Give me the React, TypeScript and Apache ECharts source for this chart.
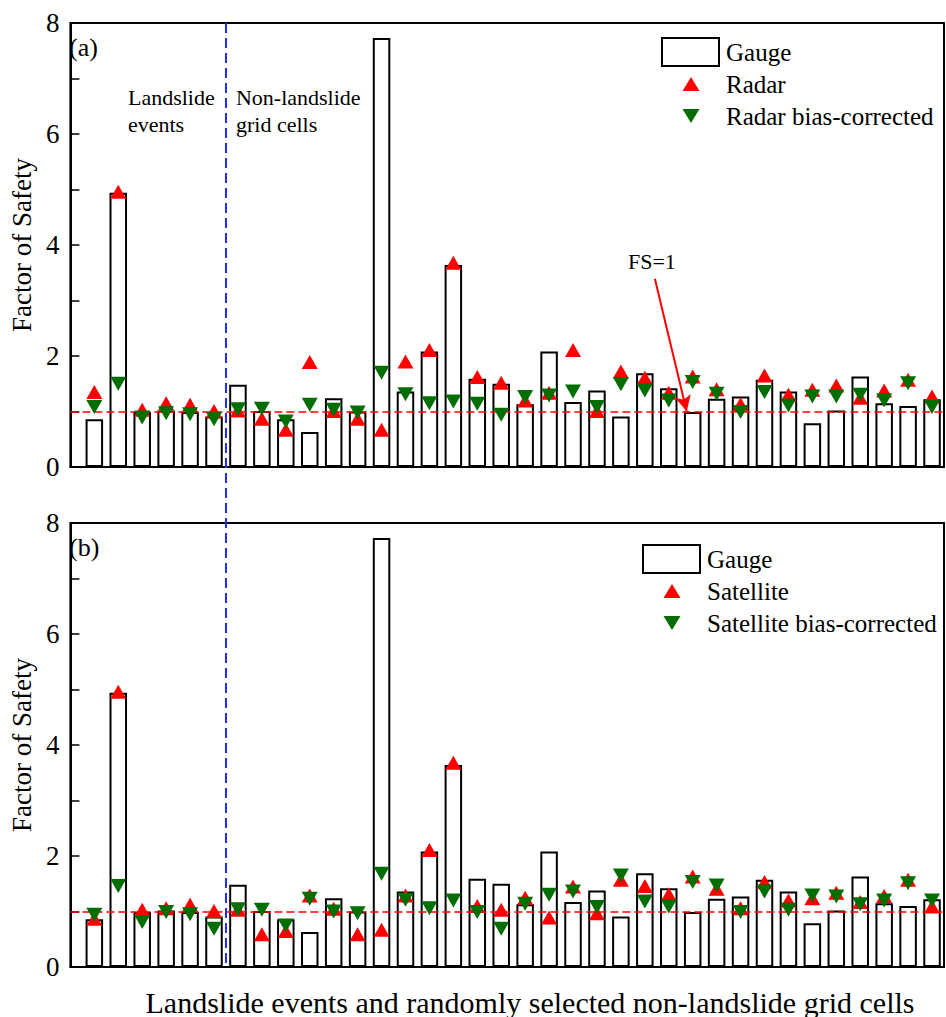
import React, { useEffect, useRef } from "react";
import * as echarts from "echarts";

// Factor of safety per cell: 6 landslide events followed by 30 non-landslide grid cells
const gauge = [0.86, 4.94, 0.99, 1.02, 0.99, 0.91, 1.48, 1.01, 0.86, 0.63, 1.24, 1.0, 7.73, 1.36, 2.08, 3.64, 1.59, 1.5, 1.13, 2.08, 1.17, 1.38, 0.91, 1.69, 1.42, 0.99, 1.23, 1.27, 1.57, 1.36, 0.79, 1.02, 1.63, 1.15, 1.1, 1.22];
const radar = [1.35, 4.96, 1.03, 1.15, 1.12, 1.01, 1.02, 0.87, 0.67, 1.89, 1.01, 0.87, 0.67, 1.9, 2.11, 3.68, 1.62, 1.52, 1.2, 1.34, 2.11, 1.01, 1.72, 1.61, 1.34, 1.63, 1.4, 1.13, 1.65, 1.3, 1.39, 1.47, 1.25, 1.38, 1.57, 1.27];
const radarCorrected = [1.08, 1.5, 0.89, 0.97, 0.95, 0.86, 1.04, 1.05, 0.82, 1.12, 1.03, 0.98, 1.7, 1.31, 1.15, 1.18, 1.14, 0.94, 1.26, 1.29, 1.36, 1.08, 1.49, 1.38, 1.2, 1.53, 1.32, 0.99, 1.35, 1.11, 1.27, 1.27, 1.3, 1.2, 1.51, 1.08];
const satellite = [0.87, 4.96, 1.03, 1.06, 1.12, 1.01, 1.03, 0.59, 0.65, 1.29, 1.05, 0.59, 0.67, 1.29, 2.11, 3.68, 1.1, 1.03, 1.25, 0.89, 1.45, 0.97, 1.57, 1.46, 1.31, 1.63, 1.41, 1.06, 1.53, 1.2, 1.24, 1.34, 1.17, 1.28, 1.57, 1.09];
const satelliteCorrected = [0.94, 1.46, 0.81, 0.99, 0.95, 0.69, 1.04, 1.03, 0.75, 1.23, 1.0, 0.97, 1.68, 1.21, 1.06, 1.2, 0.99, 0.69, 1.14, 1.3, 1.36, 1.08, 1.65, 1.18, 1.09, 1.53, 1.47, 0.99, 1.36, 1.03, 1.29, 1.27, 1.13, 1.2, 1.51, 1.2];

const yTicks = { min: 0, max: 8, interval: 2 };
const X_MAX = 36.5;
const DIVIDER_X = 6.5; // between landslide events and non-landslide cells
const FS_THRESHOLD = 1;
const arrowFrom = [24.42, 3.39];
const arrowTo = [25.75, 1.0];

const panelTags = ["(a)", "(b)"];
const legendNames = [
  ["Gauge", "Radar", "Radar bias-corrected"],
  ["Gauge", "Satellite", "Satellite bias-corrected"],
];
const yTitle = "Factor of Safety";
const xTitle = "Landslide events and randomly selected non-landslide grid cells";

const FONT = "'Liberation Serif', 'Times New Roman', serif";
const RED = "#ff0000";
const GREEN = "#006e00";
const BLUE = "#1f2fe8";

const toPairs = (vals: number[]) => vals.map((v, i) => [i + 1, v]);

const GRID_LEFT = 66;
const GRID_WIDTH = 878;
const GRID_HEIGHT = 444;
const GRID_TOPS = [23, 523];

function legendGraphics(x0: number, y0: number, names: string[]) {
  const textStyle = (text: string) => ({
    text,
    fontSize: 25,
    fontFamily: FONT,
    fill: "#000",
    verticalAlign: "middle",
    align: "left",
  });
  const cx = x0 + 29;
  return [
    {
      type: "rect",
      shape: { x: x0, y: y0, width: 57, height: 28 },
      style: { fill: "#fff", stroke: "#000", lineWidth: 2 },
      z: 20,
    },
    { type: "text", x: x0 + 64, y: y0 + 14, style: textStyle(names[0]), z: 20 },
    {
      type: "polygon",
      shape: { points: [[cx, y0 + 39], [cx + 8.5, y0 + 53], [cx - 8.5, y0 + 53]] },
      style: { fill: RED },
      z: 20,
    },
    { type: "text", x: x0 + 64, y: y0 + 46, style: textStyle(names[1]), z: 20 },
    {
      type: "polygon",
      shape: { points: [[cx - 8.5, y0 + 71], [cx + 8.5, y0 + 71], [cx, y0 + 85]] },
      style: { fill: GREEN },
      z: 20,
    },
    { type: "text", x: x0 + 64, y: y0 + 78, style: textStyle(names[2]), z: 20 },
  ];
}

export default function App() {
  const ref = useRef<HTMLDivElement>(null);

  useEffect(() => {
    if (!ref.current) return;
    const chart = echarts.init(ref.current, undefined, { renderer: "svg" });

    const estimates = [radar, satellite];
    const corrected = [radarCorrected, satelliteCorrected];

    const grids = GRID_TOPS.map((top) => ({
      left: GRID_LEFT,
      top,
      width: GRID_WIDTH,
      height: GRID_HEIGHT,
      show: true,
      borderColor: "#000",
      borderWidth: 2,
      backgroundColor: "rgba(0,0,0,0)",
    }));

    const xAxes = GRID_TOPS.map((_, i) => ({
      type: "value",
      gridIndex: i,
      min: 0,
      max: X_MAX,
      axisLine: { show: true, lineStyle: { color: "#000", width: 2 } },
      axisTick: { show: false },
      axisLabel: { show: false },
      splitLine: { show: false },
    }));

    const yAxes = GRID_TOPS.map((_, i) => ({
      type: "value",
      gridIndex: i,
      min: yTicks.min,
      max: yTicks.max,
      interval: yTicks.interval,
      name: yTitle,
      nameLocation: "middle",
      nameGap: 30,
      nameTextStyle: { fontSize: 27, fontFamily: FONT, color: "#000" },
      axisLine: { show: true, lineStyle: { color: "#000", width: 2 } },
      axisTick: { show: true, inside: true, length: 9, lineStyle: { color: "#000", width: 1.5 } },
      minorTick: { show: true, splitNumber: 2, length: 9, lineStyle: { color: "#000", width: 1.5 } },
      axisLabel: { fontSize: 27, fontFamily: FONT, color: "#000", margin: 11 },
      splitLine: { show: false },
      minorSplitLine: { show: false },
    }));

    const series: any[] = [];
    GRID_TOPS.forEach((_, i) => {
      series.push({
        type: "bar",
        name: legendNames[i][0],
        xAxisIndex: i,
        yAxisIndex: i,
        data: toPairs(gauge),
        barWidth: 17.5,
        itemStyle: { color: "rgba(0,0,0,0)", borderColor: "#000", borderWidth: 2 },
        z: 2,
        markLine: {
          silent: true,
          symbol: "none",
          label: { show: false },
          lineStyle: { color: RED, type: [8, 4], width: 1.5 },
          data: [{ yAxis: FS_THRESHOLD }],
          z: 3,
        },
      });
      series.push({
        type: "scatter",
        name: legendNames[i][1],
        xAxisIndex: i,
        yAxisIndex: i,
        data: toPairs(estimates[i]),
        symbol: "triangle",
        symbolSize: [16, 14],
        itemStyle: { color: RED, opacity: 1 },
        z: 4,
        ...(i === 0
          ? {
              markLine: {
                silent: true,
                label: { show: false },
                symbol: ["none", "arrow"],
                symbolSize: [12, 16],
                lineStyle: { color: RED, type: "solid", width: 2 },
                data: [[{ coord: arrowFrom }, { coord: arrowTo }]],
                z: 6,
              },
            }
          : {}),
      });
      series.push({
        type: "scatter",
        name: legendNames[i][2],
        xAxisIndex: i,
        yAxisIndex: i,
        data: toPairs(corrected[i]),
        symbol: "triangle",
        symbolRotate: 180,
        symbolSize: [16, 14],
        itemStyle: { color: GREEN, opacity: 1 },
        z: 5,
      });
    });

    chart.setOption({
      animation: false,
      backgroundColor: "#fff",
      textStyle: { fontFamily: FONT },
      grid: grids,
      xAxis: xAxes,
      yAxis: yAxes,
      series,
    });

    const top = chart.convertToPixel({ gridIndex: 0 } as any, [DIVIDER_X, yTicks.max]) as number[];
    const bottom = chart.convertToPixel({ gridIndex: 1 } as any, [DIVIDER_X, yTicks.min]) as number[];
    const arrowStart = chart.convertToPixel({ gridIndex: 0 } as any, arrowFrom) as number[];

    const textEl = (text: string, x: number, y: number, fontSize: number, align = "left") => ({
      type: "text",
      x,
      y,
      z: 20,
      style: { text, fontSize, fontFamily: FONT, fill: "#000", align, verticalAlign: "middle", lineHeight: 27 },
    });

    chart.setOption({
      graphic: [
        {
          type: "line",
          shape: { x1: top[0], y1: top[1], x2: bottom[0], y2: bottom[1] - 4 },
          style: { stroke: BLUE, lineWidth: 2, lineDash: [10, 5] },
          z: 15,
        },
        textEl(panelTags[0], 69, 47, 26),
        textEl(panelTags[1], 69, 547, 26),
        textEl("Landslide\nevents", top[0] - 98, 111, 22),
        textEl("Non-landslide\ngrid cells", top[0] + 10, 111, 22),
        textEl("FS=1", arrowStart[0] - 3, arrowStart[1] - 17, 22, "center"),
        ...legendGraphics(662, 38, legendNames[0]),
        ...legendGraphics(643, 545, legendNames[1]),
        textEl(xTitle, 530, 1002, 30, "center"),
      ],
    });

    return () => chart.dispose();
  }, []);

  return (
    <div
      ref={ref}
      style={{ position: "absolute", left: 0, top: 0, width: 946, height: 1017, background: "#fff" }}
    />
  );
}
